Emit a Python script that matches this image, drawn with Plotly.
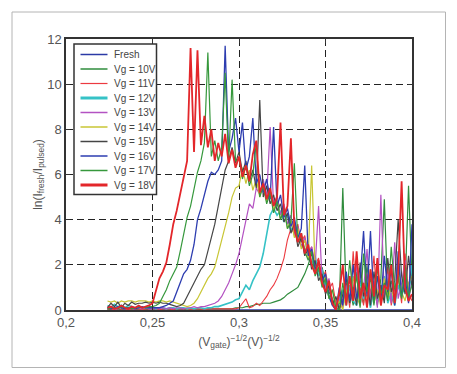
import plotly.graph_objects as go

# ---- data ----
X = [0.224, 0.226, 0.228, 0.230, 0.232, 0.234, 0.236, 0.238, 0.240, 0.242,
     0.244, 0.246, 0.248, 0.250, 0.252, 0.254, 0.256, 0.258, 0.260, 0.262,
     0.264, 0.266, 0.268, 0.270, 0.272, 0.274, 0.276, 0.278, 0.280, 0.282,
     0.284, 0.286, 0.288, 0.290, 0.292, 0.294, 0.296, 0.298, 0.300, 0.302,
     0.304, 0.306, 0.308, 0.310, 0.312, 0.314, 0.316, 0.318, 0.320, 0.322,
     0.324, 0.326, 0.328, 0.330, 0.332, 0.334, 0.336, 0.338, 0.340, 0.342,
     0.344, 0.346, 0.348, 0.350, 0.352, 0.354, 0.356, 0.358, 0.360, 0.362,
     0.364, 0.366, 0.368, 0.370, 0.372, 0.374, 0.376, 0.378, 0.380, 0.382,
     0.384, 0.386, 0.388, 0.390, 0.392, 0.394, 0.396, 0.398, 0.400]

FRESH_X = [0.224, 0.400]
FRESH_Y = [0.0, 0.0]

VG10 = [0.05, 0.0, 0.05, 0.05, 0.0, 0.05, 0.05, 0.05, 0.0, 0.05, 0.05, 0.0, 0.05,
        0.05, 0.05, 0.0, 0.05, 0.05, 0.05, 0.0, 0.05, 0.05, 0.05,
        0.0, 0.05, 0.05, 0.05, 0.0, 0.05, 0.05, 0.05, 0.05, 0.05,
        0.05, 0.05, 0.05, 0.05, 0.1, 0.1, 0.1, 0.15, 0.15, 0.2,
        0.25, 0.25, 0.3, 0.3, 0.3, 0.35, 0.4, 0.45, 0.55, 0.7,
        0.8, 0.9, 1.0, 1.3, 1.6, 2.0, 2.5, 2.0, 1.7, 1.9,
        1.2, 0.8, 0.5, 0.1, 0.3, 5.4, 0.6, 1.0, 0.2, 1.7,
        0.8, 0.3, 2.0, 0.5, 1.1, 0.2, 1.4, 4.9, 0.6, 1.3,
        0.4, 2.2, 0.7, 1.0, 5.5, 1.4]

VG11 = [0.05, 0.05, 0.0, 0.05, 0.05, 0.05, 0.0, 0.05, 0.05, 0.05, 0.0, 0.05, 0.05,
        0.05, 0.05, 0.0, 0.05, 0.05, 0.05, 0.0, 0.05, 0.05, 0.05,
        0.05, 0.0, 0.05, 0.05, 0.05, 0.0, 0.05, 0.05, 0.05, 0.05,
        0.05, 0.05, 0.05, 0.05, 0.05, 0.1, 0.3, 0.5, 0.1, 0.15,
        0.3, 0.2, 0.4, 0.6, 0.9, 1.1, 1.4, 1.8, 2.3, 3.1,
        3.6, 3.4, 3.8, 3.0, 3.3, 2.5, 2.8, 2.0, 2.3, 1.4,
        1.7, 0.9, 1.2, 0.3, 0.0, 0.5, 1.2, 0.1, 2.6, 0.4,
        1.0, 0.2, 1.6, 0.7, 2.4, 0.3, 1.1, 0.5, 1.9, 0.2,
        0.9, 1.4, 0.3, 2.5, 0.8, 0.4]

VG12 = [0.2, 0.1, 0.25, 0.15, 0.2, 0.1, 0.2, 0.15, 0.1, 0.15, 0.1, 0.1, 0.1,
        0.1, 0.05, 0.1, 0.1, 0.05, 0.1, 0.1, 0.05, 0.1, 0.1,
        0.05, 0.1, 0.05, 0.1, 0.1, 0.05, 0.1, 0.1, 0.15, 0.15,
        0.2, 0.25, 0.3, 0.35, 0.45, 0.5, 0.8, 1.1, 0.9, 1.3,
        1.6, 1.9, 2.5, 3.4, 4.2, 4.5, 4.2, 4.4, 3.9, 4.2,
        3.5, 3.9, 3.0, 3.4, 2.6, 2.9, 2.0, 2.4, 1.5, 1.8,
        1.0, 0.6, 0.3, 0.0, 0.4, 0.9, 0.2, 1.1, 0.4, 0.2,
        1.3, 0.5, 0.9, 0.1, 1.0, 0.4, 0.7, 1.5, 0.3, 0.8,
        0.2, 1.1, 0.6, 1.2, 0.5, 2.0]

VG13 = [0.05, 0.1, 0.05, 0.05, 0.1, 0.05, 0.1, 0.05, 0.05, 0.1, 0.05, 0.1, 0.05,
        0.05, 0.1, 0.05, 0.1, 0.05, 0.1, 0.05, 0.1, 0.1, 0.05,
        0.1, 0.1, 0.15, 0.1, 0.15, 0.15, 0.2, 0.25, 0.3, 0.4,
        0.6, 0.9, 1.2, 1.6, 2.0, 2.5, 3.2, 4.0, 4.7, 4.5,
        5.4, 5.1, 5.8, 5.0, 8.1, 4.6, 5.1, 4.2, 4.7, 3.8,
        4.2, 3.3, 3.7, 2.8, 3.2, 2.4, 2.8, 1.9, 4.6, 1.3,
        1.0, 1.4, 0.4, 0.0, 0.6, 0.1, 1.1, 0.3, 0.8, 2.0,
        0.2, 0.9, 2.7, 0.4, 1.3, 0.1, 5.1, 0.6, 1.6, 0.3,
        3.0, 0.5, 1.2, 2.2, 0.4, 1.3]

VG14 = [0.4, 0.35, 0.4, 0.3, 0.4, 0.35, 0.4, 0.4, 0.35, 0.4, 0.4, 0.4, 0.35,
        0.4, 0.35, 0.4, 0.4, 0.35, 0.4, 0.35, 0.3, 0.25, 0.2,
        0.15, 0.2, 0.3, 0.5, 0.8, 1.1, 1.4, 1.6, 1.9, 2.5,
        3.1, 3.6, 4.3, 5.0, 5.4, 5.5, 6.3, 5.6, 6.2, 5.3,
        5.8, 5.0, 5.6, 4.8, 5.3, 4.4, 4.9, 4.0, 4.5, 3.6,
        4.0, 3.2, 3.6, 2.7, 3.1, 2.3, 6.4, 1.7, 2.0, 1.1,
        1.5, 0.5, 0.9, 0.1, 0.4, 0.0, 0.9, 0.3, 1.5, 0.6,
        0.2, 1.2, 0.5, 1.8, 0.3, 0.9, 0.2, 1.4, 0.5, 1.0,
        0.3, 1.7, 0.8, 0.4, 1.2, 1.5]

VG15 = [0.1, 0.3, 0.15, 0.35, 0.1, 0.3, 0.2, 0.35, 0.25, 0.3, 0.3, 0.35, 0.3,
        0.35, 0.3, 0.35, 0.3, 0.3, 0.25, 0.2, 0.15, 0.2, 0.3,
        0.6, 0.9, 1.2, 1.5, 1.8, 2.0, 2.6, 3.1, 3.8, 4.6,
        5.4, 6.2, 6.6, 7.2, 6.5, 7.0, 6.1, 6.6, 5.7, 6.2,
        5.4, 9.3, 5.0, 5.5, 4.7, 5.1, 4.4, 4.7, 3.9, 4.3,
        3.4, 3.8, 2.8, 3.2, 2.4, 2.7, 1.8, 2.2, 1.3, 1.6,
        0.7, 1.1, 0.2, 0.6, 0.0, 0.7, 1.4, 0.3, 1.0, 0.2,
        2.1, 0.6, 1.2, 0.2, 1.7, 0.5, 1.1, 0.3, 2.3, 0.8,
        1.3, 4.0, 1.5, 0.7, 2.4, 1.0]

VG16 = [0.1, 0.05, 0.1, 0.15, 0.1, 0.05, 0.1, 0.1, 0.05, 0.1, 0.15, 0.1, 0.1,
        0.1, 0.1, 0.1, 0.15, 0.2, 0.3, 0.4, 0.8, 1.2, 1.6,
        1.8, 2.2, 2.9, 4.0, 4.5, 5.1, 5.7, 6.1, 6.0, 6.2,
        6.6, 11.7, 7.0, 7.6, 8.5, 7.0, 8.3, 6.2, 6.8, 8.5,
        5.6, 6.0, 5.2, 5.8, 4.9, 8.1, 4.6, 5.1, 4.1, 4.5,
        3.7, 4.1, 3.2, 3.6, 6.4, 2.4, 2.7, 1.8, 2.1, 1.3,
        1.6, 0.6, 0.2, 0.0, 1.0, 0.2, 1.7, 0.4, 2.0, 0.5,
        1.3, 3.5, 0.6, 3.5, 0.3, 1.5, 0.4, 2.4, 0.8, 1.8,
        0.2, 2.6, 0.6, 1.4, 0.3, 3.8]

VG17 = [0.05, 0.1, 0.1, 0.05, 0.15, 0.1, 0.1, 0.05, 0.1, 0.15, 0.1, 0.1, 0.15,
        0.15, 0.2, 0.3, 0.6, 0.9, 1.3, 1.6, 1.9, 2.6, 3.3,
        4.1, 4.6, 5.4, 6.1, 6.6, 7.4, 11.4, 6.8, 7.5, 6.6,
        7.2, 10.5, 6.5, 10.2, 6.6, 6.7, 5.8, 6.4, 5.5, 6.0,
        7.4, 5.0, 5.5, 4.7, 5.2, 4.3, 4.8, 4.0, 4.5, 3.6,
        3.9, 6.5, 3.0, 3.3, 2.6, 2.2, 2.6, 1.5, 1.9, 1.0,
        1.4, 0.5, 0.9, 0.1, 0.0, 1.2, 0.3, 2.2, 0.6, 1.5,
        0.1, 2.5, 0.8, 1.4, 0.2, 1.9, 0.7, 1.2, 0.4, 2.8,
        0.9, 1.5, 0.5, 2.0, 0.6, 1.1]

VG18 = [0.1, 0.15, 0.05, 0.1, 0.2, 0.1, 0.05, 0.15, 0.1, 0.2, 0.1, 0.15, 0.2,
        0.3, 0.9, 1.4, 1.7, 2.1, 2.9, 3.8, 4.4, 5.1, 5.8,
        6.6, 11.6, 7.0, 11.5, 7.3, 8.6, 7.2, 8.0, 6.6, 7.4,
        6.8, 7.8, 6.5, 7.1, 6.3, 6.8, 5.9, 6.4, 5.7, 6.9,
        7.5, 5.2, 5.6, 4.9, 5.4, 4.6, 5.0, 8.3, 4.2, 4.6,
        7.6, 3.6, 3.0, 3.4, 2.5, 2.9, 2.0, 1.6, 2.2, 1.2,
        0.8, 1.3, 0.3, 0.0, 0.8, 2.0, 0.2, 1.5, 0.4, 2.6,
        0.5, 1.2, 0.1, 1.8, 0.6, 2.3, 0.2, 1.1, 0.9, 2.0,
        0.3, 1.6, 5.7, 1.0, 0.4, 0.7]

SERIES_NAMES = ["Fresh", "Vg = 10V", "Vg = 11V", "Vg = 12V", "Vg = 13V",
                "Vg = 14V", "Vg = 15V", "Vg = 16V", "Vg = 17V", "Vg = 18V"]
X_TICKS = [0.2, 0.25, 0.3, 0.35, 0.4]
X_TICK_LABELS = ["0,2", "0,25", "0,3", "0,35", "0,4"]
Y_TICKS = [0, 2, 4, 6, 8, 10, 12]
Y_TICK_LABELS = ["0", "2", "4", "6", "8", "10", "12"]

# ---- styles ----
COLORS = ["#2b3aa6", "#2f8c3c", "#ec3a40", "#35c2c6", "#b352c2",
          "#c8c634", "#454545", "#2d3db0", "#36983c", "#e3262a"]
WIDTHS = [1.4, 1.2, 1.1, 1.6, 1.2, 1.2, 1.2, 1.3, 1.2, 1.8]
LEG_WIDTHS = [1.5, 1.5, 1.2, 3.0, 1.5, 1.5, 1.5, 1.5, 1.5, 3.0]

ys = [FRESH_Y, VG10, VG11, VG12, VG13, VG14, VG15, VG16, VG17, VG18]
xs = [FRESH_X] + [X] * 9
for s in ys[1:]:
    assert len(s) == len(X), len(s)

FONT = "Liberation Sans, Arial, sans-serif"
TXT = "#555555"

fig = go.Figure()
for k, (xv, yv) in enumerate(zip(xs, ys)):
    fig.add_trace(go.Scatter(x=xv, y=yv, mode="lines", name=SERIES_NAMES[k],
                             line=dict(color=COLORS[k], width=WIDTHS[k]),
                             showlegend=False))

W, H = 457, 374
L, R, T, B = 66, 45, 39, 64
PW, PH = W - L - R, H - T - B


def px(xp):
    return (xp - L) / PW


def py(yp):
    return (H - B - yp) / PH


shapes = []
# outer light frame
shapes.append(dict(type="rect", xref="paper", yref="paper",
                   x0=px(12), x1=px(445.5), y0=py(367.5), y1=py(12),
                   line=dict(color="#b4b4b4", width=1), fillcolor="rgba(0,0,0,0)",
                   layer="below"))
# compact legend box (as in the reference)
shapes.append(dict(type="rect", xref="paper", yref="paper",
                   x0=px(74), x1=px(156.5), y0=py(194.5), y1=py(44),
                   line=dict(color="#333333", width=1.5), fillcolor="white",
                   layer="above"))
annotations = []
for k, name in enumerate(SERIES_NAMES):
    yy = 54.5 + 14.5 * k
    shapes.append(dict(type="line", xref="paper", yref="paper",
                       x0=px(80.5), x1=px(107.5), y0=py(yy), y1=py(yy),
                       line=dict(color=COLORS[k], width=LEG_WIDTHS[k]), layer="above"))
    annotations.append(dict(xref="paper", yref="paper", x=px(112), y=py(yy),
                            xanchor="left", yanchor="middle", text=name, showarrow=False,
                            font=dict(family=FONT, size=10, color="#444444")))

axis_common = dict(showline=True, linecolor="#333333", linewidth=1.5, mirror="ticks",
                   ticks="inside", ticklen=4, tickcolor="#333333",
                   showgrid=True, gridcolor="#222222", gridwidth=1.1, griddash="7px,4px",
                   zeroline=False, tickfont=dict(family=FONT, size=13, color=TXT))

fig.update_layout(
    width=W, height=H,
    margin=dict(l=L, r=R, t=T, b=B, autoexpand=False),
    paper_bgcolor="white", plot_bgcolor="white",
    showlegend=False,
    font=dict(family=FONT, color=TXT),
    xaxis=dict(range=[0.2, 0.4], tickvals=X_TICKS, ticktext=X_TICK_LABELS,
               title=dict(text="(V<sub>gate</sub>)<sup>−1/2</sup>(V)<sup>−1/2</sup>",
                          font=dict(family=FONT, size=12, color=TXT), standoff=8),
               automargin=False, **axis_common),
    yaxis=dict(range=[0, 12], tickvals=Y_TICKS, ticktext=Y_TICK_LABELS,
               title=dict(text="ln(I<sub>fresh</sub>/I<sub>pulsed</sub>)",
                          font=dict(family=FONT, size=12, color=TXT), standoff=2),
               automargin=False, **axis_common),
    shapes=shapes,
    annotations=annotations,
)

fig.write_html("out.html", config={"displayModeBar": False},
               post_script="document.body.style.margin='0';document.body.style.padding='0';")
